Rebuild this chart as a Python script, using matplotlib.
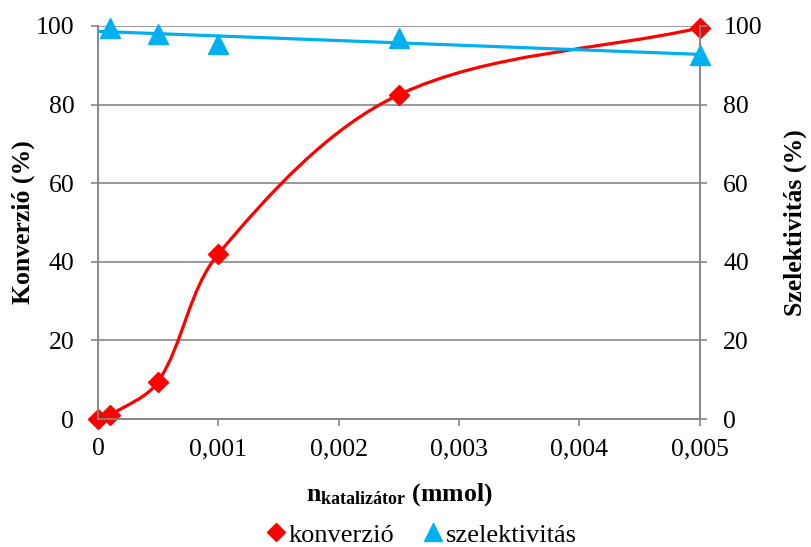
import numpy as np
import matplotlib
matplotlib.use("Agg")
import matplotlib.pyplot as plt
from matplotlib.path import Path
from matplotlib.patches import PathPatch
from matplotlib.lines import Line2D
from matplotlib.ticker import FuncFormatter

# data
n_kat = [0, 0.0001, 0.0005, 0.001, 0.0025, 0.005]
konverzio = [0, 1, 9.5, 42, 82.5, 99.5]
n_szel = [0.0001, 0.0005, 0.001, 0.0025, 0.005]
szelektivitas = [99.5, 98, 95.5, 97, 92.5]
x_ticks = [0, 0.001, 0.002, 0.003, 0.004, 0.005]
y_ticks = [0, 20, 40, 60, 80, 100]

RED = "#FF0000"
BLUE = "#00B0F0"
GRAY = "#878787"

plt.rcParams["font.family"] = ["Liberation Serif", "DejaVu Serif"]
plt.rcParams["mathtext.fontset"] = "custom"
plt.rcParams["mathtext.rm"] = "Liberation Serif"
plt.rcParams["mathtext.bf"] = "Liberation Serif:bold"
plt.rcParams["font.size"] = 18.5


def smooth_path(xs, ys, sx, sy):
    # excel-like smoothed line; tangents scaled by segment length (in screen units)
    p = np.column_stack([np.asarray(xs) * sx, np.asarray(ys) * sy])
    n = len(p)
    d = [np.hypot(*(p[i + 1] - p[i])) for i in range(n - 1)]
    verts = [p[0]]
    codes = [Path.MOVETO]
    for i in range(n - 1):
        p1, p2 = p[i], p[i + 1]
        if i > 0:
            c1 = p1 + (p2 - p[i - 1]) * d[i] / (3 * (d[i - 1] + d[i]))
        else:
            c1 = p1 + (p2 - p1) / 3
        if i + 2 < n:
            c2 = p2 - (p[i + 2] - p1) * d[i] / (3 * (d[i] + d[i + 1]))
        else:
            c2 = p2 - (p2 - p1) / 3
        verts += [c1, c2, p2]
        codes += [Path.CURVE4] * 3
    verts = np.array(verts) / [sx, sy]
    return Path(verts, codes)


fig = plt.figure(figsize=(8.11, 5.47), dpi=100)
ax = fig.add_axes([0.1208, 0.234, 0.742, 0.7185])
ax2 = ax.twinx()

# gridlines
ax.set_axisbelow(True)
ax.yaxis.grid(True, color=GRAY, linewidth=1.2)

# konverzio smoothed line + markers
path = smooth_path(n_kat, konverzio, 602 / 0.005, 393 / 100)
ax.add_patch(PathPatch(path, facecolor="none", edgecolor=RED,
                       linewidth=2.3, zorder=3))
ax.plot(n_kat, konverzio, linestyle="none", marker="D", markersize=10.5,
        color=RED, zorder=4, clip_on=False)

# szelektivitas markers + linear trendline
coef = np.polyfit(n_szel, szelektivitas, 1)
tx = np.array([x_ticks[0], x_ticks[-1]])
ax2.plot(tx, np.polyval(coef, tx), color=BLUE, linewidth=2.3, zorder=3)
ax2.plot(n_szel, szelektivitas, linestyle="none", marker="^", markersize=15,
         color=BLUE, zorder=4, clip_on=False)

for a in (ax, ax2):
    a.set_xlim(x_ticks[0], x_ticks[-1])
    a.set_ylim(y_ticks[0], y_ticks[-1])
    a.set_yticks(y_ticks)
    for s in a.spines.values():
        s.set_color(GRAY)
        s.set_linewidth(1.2)
    a.spines["top"].set_visible(False)
    a.tick_params(colors=GRAY, labelcolor="black", length=5, width=1.2,
                  labelsize=18.5)

ax.set_xticks(x_ticks)
ax.xaxis.set_major_formatter(
    FuncFormatter(lambda v, pos: "0" if v == 0 else ("%g" % v).replace(".", ",")))
ax.tick_params(axis="x", pad=9)
ax.tick_params(axis="y", pad=12)
ax2.tick_params(axis="y", pad=12)

ax.set_ylabel("Konverzió (%)", fontweight="bold", fontsize=18.5)
ax.yaxis.set_label_coords(-0.105, 0.5)
ax2.set_ylabel("Szelektivitás (%)", fontweight="bold", fontsize=18.5)
ax2.yaxis.set_label_coords(1.139, 0.5)
ax.set_xlabel(r"$\mathbf{n_{katalizátor}}$ (mmol)", fontweight="bold",
              fontsize=18.5, va="top")
ax.xaxis.set_label_coords(0.5, -0.158)

handles = [
    Line2D([], [], linestyle="none", marker="D", markersize=9, color=RED),
    Line2D([], [], linestyle="none", marker="^", markersize=13, color=BLUE),
]
fig.legend(handles, ["konverzió", "szelektivitás"], loc="center",
           bbox_to_anchor=(0.52, 0.022), ncol=2, frameon=False, fontsize=19,
           handlelength=0.7, handletextpad=0.15, columnspacing=1.1,
           borderpad=0.1)

fig.savefig("out.png", dpi=100)
